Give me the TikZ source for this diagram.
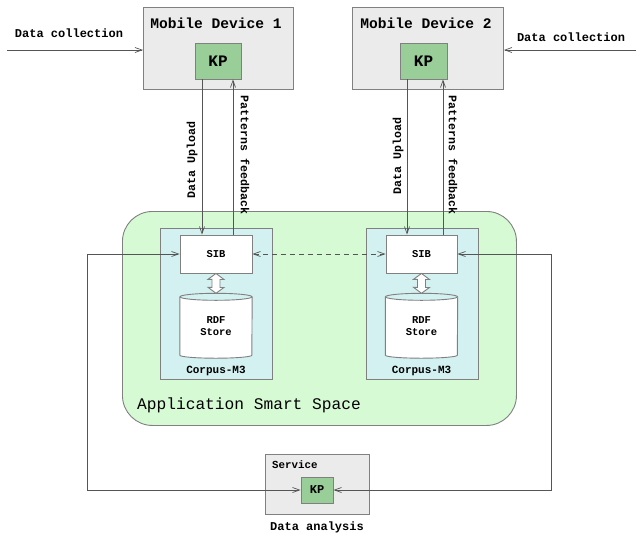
\documentclass[tikz,border=0pt]{standalone}
\usepackage{fontspec}
\setmonofont{Liberation Mono}
\usetikzlibrary{arrows.meta,calc}

\definecolor{boxgray}{RGB}{235,235,235}
\definecolor{edgegray}{RGB}{128,128,128}
\definecolor{kpgreen}{RGB}{153,206,153}
\definecolor{spacegreen}{RGB}{214,250,212}
\definecolor{corpuscyan}{RGB}{210,241,240}
\definecolor{linegray}{RGB}{85,85,85}

\newcommand{\mono}[1]{\fontsize{#1}{#1}\selectfont\ttfamily}

\tikzset{
  frame/.style={draw=edgegray, line width=0.9pt, inner sep=0pt, anchor=north west},
  device/.style={frame, fill=boxgray},
  kpbox/.style={frame, fill=kpgreen, anchor=center, font=\mono{16}\bfseries},
  corpus/.style={frame, fill=corpuscyan},
  sibbox/.style={frame, fill=white, anchor=center, font=\mono{10.5}\bfseries},
  label/.style={inner sep=0pt, font=\mono{12}\bfseries},
  link/.style={draw=linegray, line width=0.7pt},
  tip/.tip={Straight Barb[length=7pt,width=5pt,line width=0.7pt]},
}

\begin{document}
\begin{tikzpicture}[x=1pt,y=-1pt]
\useasboundingbox (0,0) rectangle (636,533);

% application smart space
\node[frame, fill=spacegreen, rounded corners=30pt, minimum width=394, minimum height=214] (space) at (122,211) {};
\node[inner sep=0pt, anchor=west, font=\mono{16.2}] (spacelbl) at (137,405) {Application Smart Space};

% mobile devices
\node[device, minimum width=150, minimum height=82] (dev1) at (143,7) {};
\node[inner sep=0pt, font=\mono{14.6}\bfseries] (dev1lbl) at (216,23) {Mobile Device 1};
\node[kpbox, minimum width=46, minimum height=36] (kp1) at (218,61) {KP};

\node[device, minimum width=151, minimum height=82] (dev2) at (352,7) {};
\node[inner sep=0pt, font=\mono{14.6}\bfseries] (dev2lbl) at (426,23) {Mobile Device 2};
\node[kpbox, minimum width=47, minimum height=36] (kp2) at (423.5,61) {KP};

% corpus-m3 blocks
\node[corpus, minimum width=112, minimum height=151] (corp1) at (160,228) {};
\node[inner sep=0pt, font=\mono{11}\bfseries] (corp1lbl) at (216,371) {Corpus-M3};
\node[sibbox, minimum width=72, minimum height=38] (sib1) at (216,254) {SIB};
\node[inner sep=0pt, minimum width=72, minimum height=58] (rdf1) at (216,326) {};

\node[corpus, minimum width=112, minimum height=151] (corp2) at (366,228) {};
\node[inner sep=0pt, font=\mono{11}\bfseries] (corp2lbl) at (421.5,371) {Corpus-M3};
\node[sibbox, minimum width=71, minimum height=38] (sib2) at (421.5,254) {SIB};
\node[inner sep=0pt, minimum width=72, minimum height=58] (rdf2) at (421.5,326) {};

% RDF stores drawn as cylinders around their anchors
\foreach \r in {rdf1,rdf2}{
  \fill[white] (\r.north west) -- (\r.south west)
    arc[start angle=180, end angle=360, x radius=36, y radius=-3] -- (\r.north east)
    arc[start angle=0, end angle=180, x radius=36, y radius=3.5] -- cycle;
  \draw[edgegray, line width=0.9pt] (\r.north west) -- (\r.south west)
    arc[start angle=180, end angle=360, x radius=36, y radius=-3] -- (\r.north east);
  \draw[edgegray, line width=0.9pt] (\r.north) ellipse[x radius=36, y radius=3.5];
  \node[inner sep=0pt, align=center, font=\mono{10.5}\bfseries] at (\r) {RDF\\[1pt]Store};
}

% hollow double arrows between SIB and store
\foreach \s/\r in {sib1/rdf1,sib2/rdf2}{
  \draw[edgegray, line width=0.9pt, fill=white]
    (\s.south) -- ++(8,6) -- ++(-4,0) -- ++(0,8) -- ++(4,0)
    -- ($(\r.north)+(0,-3.5)$) -- ++(-8,-6) -- ++(4,0) -- ++(0,-8) -- ++(-4,0) -- cycle;
}

% service
\node[device, minimum width=104, minimum height=60] (svc) at (265,454) {};
\node[inner sep=0pt, anchor=west, font=\mono{10.8}\bfseries] (svclbl) at (272,465) {Service};
\node[kpbox, minimum width=32, minimum height=26, font=\mono{12}\bfseries] (kp3) at (317,490) {KP};
\node[label] (analysis) at (317,527) {Data analysis};

% data collection inputs
\coordinate (inL) at (7,50);
\coordinate (inR) at (636,50);
\node[label] (collL) at (69,33) {Data collection};
\node[label] (collR) at (571,37) {Data collection};
\draw[link, -tip] (inL) -- (inL -| dev1.west);
\draw[link, -tip] (inR) -- (inR -| dev2.east);

% uploads and feedback
\draw[link, -tip] ([xshift=-16]kp1.south) -- ([xshift=-16]kp1.south |- sib1.north);
\draw[link, -tip] ([xshift=15]kp1.south |- sib1.north) -- ([xshift=15]kp1.south);
\draw[link, -tip] ([xshift=-16.5]kp2.south) -- ([xshift=-16.5]kp2.south |- sib2.north);
\draw[link, -tip] ([xshift=19.5]kp2.south |- sib2.north) -- ([xshift=19.5]kp2.south);

\node[label, font=\mono{11.6}\bfseries, rotate=90] (up1) at (192,160) {Data Upload};
\node[label, font=\mono{11.6}\bfseries, rotate=-90] (fb1) at (245,155) {Patterns feedback};
\node[label, font=\mono{11.6}\bfseries, rotate=90] (up2) at (398,156) {Data Upload};
\node[label, font=\mono{11.6}\bfseries, rotate=-90] (fb2) at (453,155) {Patterns feedback};

% SIB to SIB
\draw[link, dash pattern=on 5pt off 4pt, tip-tip] (sib1.east) -- (sib2.west);

% loops through the analysis service
\coordinate (loopL) at (87,490);
\coordinate (loopR) at (551,490);
\draw[link, tip-tip] (sib1.west) -| (loopL) -- (kp3.west);
\draw[link, tip-tip] (sib2.east) -| (loopR) -- (kp3.east);
\end{tikzpicture}
\end{document}
